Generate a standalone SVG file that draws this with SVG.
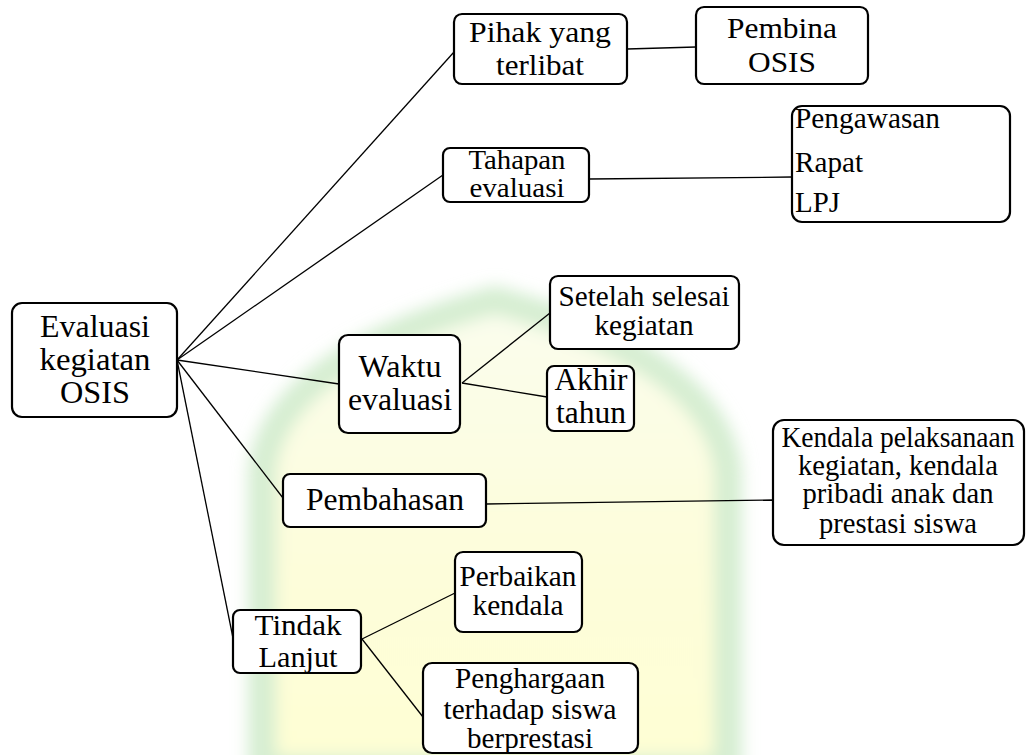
<svg xmlns="http://www.w3.org/2000/svg" width="1026" height="755" viewBox="0 0 1026 755">
<style>
.box{fill:#fff;stroke:#000;stroke-width:2.2}
.t{text-anchor:middle;fill:#000}
.tl{text-anchor:start;fill:#000}
.c{stroke:#000;stroke-width:1.3;fill:none}
</style>
<defs>
<filter id="blur" x="-20%" y="-20%" width="140%" height="140%"><feGaussianBlur stdDeviation="8"/></filter>
<linearGradient id="yel" x1="0" y1="0" x2="0" y2="1">
<stop offset="0" stop-color="#fafdec"/>
<stop offset="0.5" stop-color="#fdfdd6"/>
<stop offset="1" stop-color="#fefecc"/>
</linearGradient>
</defs>
<rect width="1026" height="755" fill="#fff"/>
<g id="watermark" filter="url(#blur)">
<path d="M262 770 L262 470 Q275 360 495 300 Q715 360 728 470 L728 770 Z" fill="url(#yel)" stroke="#cfeccb" stroke-width="28" opacity="0.85"/>
</g>
<g id="connectors">
<line class="c" x1="177" y1="360" x2="454" y2="52"/>
<line class="c" x1="177" y1="360" x2="443" y2="175"/>
<line class="c" x1="177" y1="360" x2="339" y2="384"/>
<line class="c" x1="177" y1="360" x2="283" y2="498"/>
<line class="c" x1="177" y1="360" x2="233" y2="638"/>
<line class="c" x1="627" y1="49" x2="696" y2="47"/>
<line class="c" x1="589" y1="179" x2="792" y2="177"/>
<line class="c" x1="462" y1="383" x2="550" y2="313"/>
<line class="c" x1="462" y1="383" x2="547" y2="397"/>
<line class="c" x1="486" y1="504" x2="773" y2="500"/>
<line class="c" x1="362" y1="639" x2="455" y2="593"/>
<line class="c" x1="362" y1="639" x2="423" y2="717"/>
</g>
<g id="root" font-family="Liberation Serif, serif">
<rect class="box" x="12" y="303" width="165" height="114" rx="10"/>
<text class="t" font-size="31" x="95" y="337" textLength="110" lengthAdjust="spacingAndGlyphs">Evaluasi</text>
<text class="t" font-size="31" x="95" y="370" textLength="111" lengthAdjust="spacingAndGlyphs">kegiatan</text>
<text class="t" font-size="31" x="95" y="403" textLength="70" lengthAdjust="spacingAndGlyphs">OSIS</text>
</g>
<g id="pihak" font-family="Liberation Serif, serif">
<rect class="box" x="454" y="14" width="173" height="70" rx="8"/>
<text class="t" font-size="28.5" x="540" y="42" textLength="142" lengthAdjust="spacingAndGlyphs">Pihak yang</text>
<text class="t" font-size="28.5" x="540" y="75" textLength="88" lengthAdjust="spacingAndGlyphs">terlibat</text>
</g>
<g id="pembina" font-family="Liberation Serif, serif">
<rect class="box" x="696" y="7" width="172" height="77" rx="8"/>
<text class="t" font-size="30" x="782" y="38" textLength="110" lengthAdjust="spacingAndGlyphs">Pembina</text>
<text class="t" font-size="30" x="782" y="72" textLength="68" lengthAdjust="spacingAndGlyphs">OSIS</text>
</g>
<g id="tahapan" font-family="Liberation Serif, serif">
<rect class="box" x="443" y="148" width="146" height="54" rx="7"/>
<text class="t" font-size="28" x="517" y="169" textLength="97" lengthAdjust="spacingAndGlyphs">Tahapan</text>
<text class="t" font-size="28" x="517" y="197" textLength="95" lengthAdjust="spacingAndGlyphs">evaluasi</text>
</g>
<g id="daftar" font-family="Liberation Serif, serif">
<rect class="box" x="792" y="106" width="218" height="116" rx="10"/>
<text class="tl" font-size="29" x="795" y="128" textLength="145" lengthAdjust="spacingAndGlyphs">Pengawasan</text>
<text class="tl" font-size="29" x="795" y="172" textLength="68" lengthAdjust="spacingAndGlyphs">Rapat</text>
<text class="tl" font-size="29" x="795" y="212" textLength="45" lengthAdjust="spacingAndGlyphs">LPJ</text>
</g>
<g id="waktu" font-family="Liberation Serif, serif">
<rect class="box" x="339" y="335" width="121" height="98" rx="9"/>
<text class="t" font-size="31" x="400" y="377" textLength="83" lengthAdjust="spacingAndGlyphs">Waktu</text>
<text class="t" font-size="31" x="400" y="410" textLength="104" lengthAdjust="spacingAndGlyphs">evaluasi</text>
</g>
<g id="setelah" font-family="Liberation Serif, serif">
<rect class="box" x="550" y="276" width="189" height="73" rx="8"/>
<text class="t" font-size="29" x="644" y="306" textLength="171" lengthAdjust="spacingAndGlyphs">Setelah selesai</text>
<text class="t" font-size="29" x="644" y="335" textLength="99" lengthAdjust="spacingAndGlyphs">kegiatan</text>
</g>
<g id="akhir" font-family="Liberation Serif, serif">
<rect class="box" x="547" y="366" width="87" height="65" rx="7"/>
<text class="t" font-size="31" x="591" y="390" textLength="73" lengthAdjust="spacingAndGlyphs">Akhir</text>
<text class="t" font-size="31" x="591" y="423" textLength="70" lengthAdjust="spacingAndGlyphs">tahun</text>
</g>
<g id="pembahasan" font-family="Liberation Serif, serif">
<rect class="box" x="283" y="474" width="203" height="53" rx="7"/>
<text class="t" font-size="31" x="385" y="510" textLength="158" lengthAdjust="spacingAndGlyphs">Pembahasan</text>
</g>
<g id="kendala" font-family="Liberation Serif, serif">
<rect class="box" x="773" y="420" width="251" height="125" rx="11"/>
<text class="t" font-size="28.6" x="898" y="447" textLength="233" lengthAdjust="spacingAndGlyphs">Kendala pelaksanaan</text>
<text class="t" font-size="28.6" x="898" y="475" textLength="200" lengthAdjust="spacingAndGlyphs">kegiatan, kendala</text>
<text class="t" font-size="28.6" x="898" y="503" textLength="191" lengthAdjust="spacingAndGlyphs">pribadi anak dan</text>
<text class="t" font-size="28.6" x="898" y="533" textLength="158" lengthAdjust="spacingAndGlyphs">prestasi siswa</text>
</g>
<g id="tindak" font-family="Liberation Serif, serif">
<rect class="box" x="233" y="610" width="128" height="63" rx="7"/>
<text class="t" font-size="30" x="298" y="635" textLength="87" lengthAdjust="spacingAndGlyphs">Tindak</text>
<text class="t" font-size="30" x="298" y="667" textLength="79" lengthAdjust="spacingAndGlyphs">Lanjut</text>
</g>
<g id="perbaikan" font-family="Liberation Serif, serif">
<rect class="box" x="455" y="552" width="127" height="80" rx="8"/>
<text class="t" font-size="29.4" x="518" y="586" textLength="117" lengthAdjust="spacingAndGlyphs">Perbaikan</text>
<text class="t" font-size="29.4" x="518" y="615" textLength="91" lengthAdjust="spacingAndGlyphs">kendala</text>
</g>
<g id="penghargaan" font-family="Liberation Serif, serif">
<rect class="box" x="423" y="663" width="215" height="90" rx="9"/>
<text class="t" font-size="29" x="530" y="688" textLength="150" lengthAdjust="spacingAndGlyphs">Penghargaan</text>
<text class="t" font-size="29" x="530" y="719" textLength="173" lengthAdjust="spacingAndGlyphs">terhadap siswa</text>
<text class="t" font-size="29" x="530" y="748" textLength="126" lengthAdjust="spacingAndGlyphs">berprestasi</text>
</g>
</svg>
